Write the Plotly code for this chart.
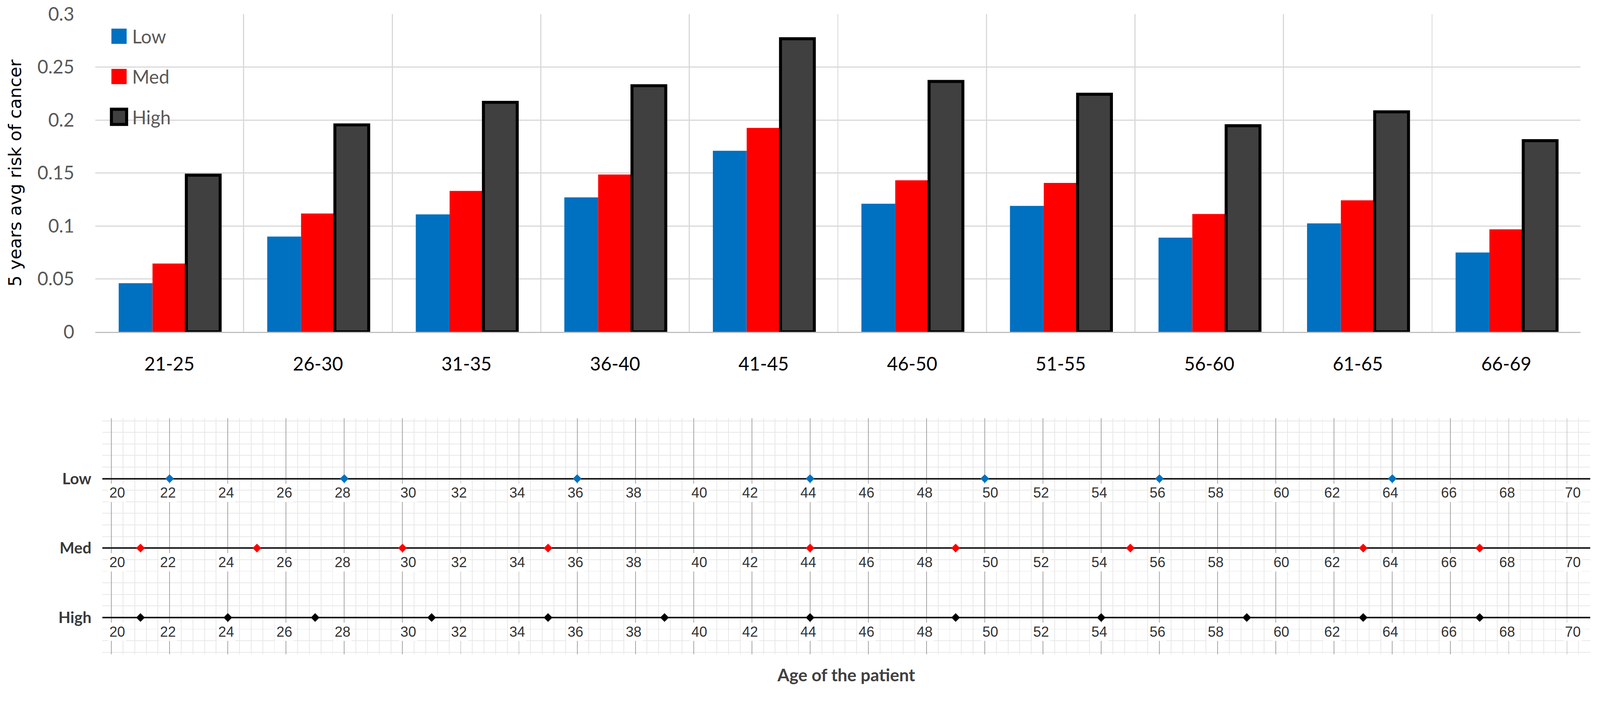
import plotly.graph_objects as go

# ---------------- data ----------------
age_groups = ["21-25", "26-30", "31-35", "36-40", "41-45",
              "46-50", "51-55", "56-60", "61-65", "66-69"]
risk_low = [0.046, 0.090, 0.111, 0.127, 0.171, 0.121, 0.119, 0.089, 0.1025, 0.075]
risk_med = [0.0646, 0.1118, 0.1331, 0.1486, 0.1926, 0.1432, 0.1407, 0.1113, 0.1243, 0.0969]
risk_high = [0.148, 0.1955, 0.2168, 0.2325, 0.2768, 0.2365, 0.2244, 0.1947, 0.2078, 0.1806]

levels = ["Low", "Med", "High"]
ages_low = [22, 28, 36, 44, 50, 56, 64]
ages_med = [21, 25, 30, 35, 44, 49, 55, 63, 67]
ages_high = [21, 24, 27, 31, 35, 39, 44, 49, 54, 59, 63, 67]
age_ticks = list(range(20, 72, 2))

# ---------------- style ----------------
W, H = 4288, 1860
C_LOW, C_MED, C_HIGH = "#0070C0", "#FF0000", "#404040"
CALIBRI = "Lato, Carlito, Calibri, sans-serif"

def fx(p):
    return p / W

def fy(p):
    return 1 - p / H

fig = go.Figure()

# ---------------- top: clustered columns ----------------
bar_series = [("Low", risk_low, C_LOW, None, 0),
              ("Med", risk_med, C_MED, None, 0),
              ("High", risk_high, C_HIGH, "#000000", 8)]
for name, vals, col, lcol, lw in bar_series:
    fig.add_trace(go.Bar(
        x=age_groups, y=vals, name=name, legendgroup=name,
        marker=dict(color=col, line=dict(color=lcol or col, width=lw)),
        xaxis="x", yaxis="y"))

# ---------------- bottom: number lines ----------------
row_y = {lvl: len(levels) - 1 - i for i, lvl in enumerate(levels)}
point_series = [("Low", ages_low, C_LOW), ("Med", ages_med, C_MED), ("High", ages_high, "#000000")]
for lvl, ages, col in point_series:
    fig.add_trace(go.Scatter(
        x=ages, y=[row_y[lvl]] * len(ages), mode="markers", showlegend=False,
        marker=dict(symbol="diamond", size=18, color=col, line=dict(width=0)),
        xaxis="x2", yaxis="y2", cliponaxis=False))

annotations = []
for lvl in levels:
    for t in age_ticks:
        annotations.append(dict(
            x=t, y=row_y[lvl], xref="x2", yref="y2", text=str(t), showarrow=False,
            yshift=-38, xshift=15 if t % 10 == 0 else -5,
            bgcolor="white", borderpad=3,
            font=dict(family="Liberation Sans, Arial, sans-serif", size=38, color="#333333")))

fig.update_layout(
    template="none",
    width=W, height=H,
    margin=dict(l=0, r=0, t=0, b=0, autoexpand=False),
    paper_bgcolor="white", plot_bgcolor="white",
    barmode="group", bargap=0.317, bargroupgap=0,
    showlegend=True,
    legend=dict(x=fx(284), y=fy(58), xanchor="left", yanchor="top", itemwidth=60,
                font=dict(family=CALIBRI, size=50, color="#595959"),
                bgcolor="rgba(0,0,0,0)", tracegroupgap=40),
    xaxis=dict(domain=[fx(255), fx(4236)], anchor="y", type="category", automargin=False,
               tickson="boundaries", showgrid=True, gridcolor="#D9D9D9", gridwidth=3,
               showline=True, linecolor="#BFBFBF", linewidth=3, ticks="",
               tickfont=dict(family=CALIBRI, size=50, color="#000000"),
               ticklabelstandoff=40),
    yaxis=dict(domain=[fy(889), fy(38)], anchor="x", range=[0, 0.3], dtick=0.05, automargin=False,
               showgrid=True, gridcolor="#D9D9D9", gridwidth=3, zeroline=False,
               ticks="", tickfont=dict(family=CALIBRI, size=50, color="#595959"),
               ticklabelstandoff=55,
               title=dict(text="5 years avg risk of cancer", standoff=28,
                          font=dict(family="DejaVu Sans, Verdana, sans-serif", size=47, color="#000000"))),
    xaxis2=dict(domain=[fx(274), fx(4262)], anchor="y2", range=[19.686, 70.80], automargin=False,
                tick0=20, dtick=2, showgrid=True, gridcolor="#A6A6A6", gridwidth=1.5,
                minor=dict(tick0=20, dtick=0.4, showgrid=True, gridcolor="#E8E8E8", gridwidth=1.5),
                showticklabels=False, ticks="", zeroline=False, showline=False,
                title=dict(text="<b>Age of the patient</b>", standoff=40,
                           font=dict(family=CALIBRI, size=46, color="#404040"))),
    yaxis2=dict(domain=[fy(1752), fy(1120)], anchor="x2", range=[-0.527, 2.871], automargin=False,
                tickmode="array", tickvals=[row_y[l] for l in levels],
                ticktext=["<b>%s</b>" % l for l in levels],
                showgrid=True, gridcolor="#1A1A1A", gridwidth=3.5,
                minor=dict(tick0=0, dtick=1 / 6, showgrid=True, gridcolor="#E8E8E8", gridwidth=1.5),
                zeroline=False, ticks="", showline=False,
                tickfont=dict(family=CALIBRI, size=42, color="#3A3A3A"),
                ticklabelstandoff=28),
    annotations=annotations,
)

post = """
document.body.style.margin = '0';
document.body.style.overflow = 'hidden';
var gd = document.querySelector('.plotly-graph-div');
gd.querySelectorAll('.legend .legendpoints path').forEach(function (p) {
    var t = p.getAttribute('transform') || '';
    p.setAttribute('transform', t + ' scale(3.4)');
    var sw = parseFloat(p.style.strokeWidth || '0');
    if (sw > 0) { p.style.strokeWidth = '2.4px'; }
});
var s = Math.min(window.innerWidth / %d, window.innerHeight / %d);
if (s > 0 && Math.abs(s - 1) > 0.002) { gd.style.zoom = s; }
""" % (W, H)

fig.write_html("out.html", post_script=post, config={"displayModeBar": False})
